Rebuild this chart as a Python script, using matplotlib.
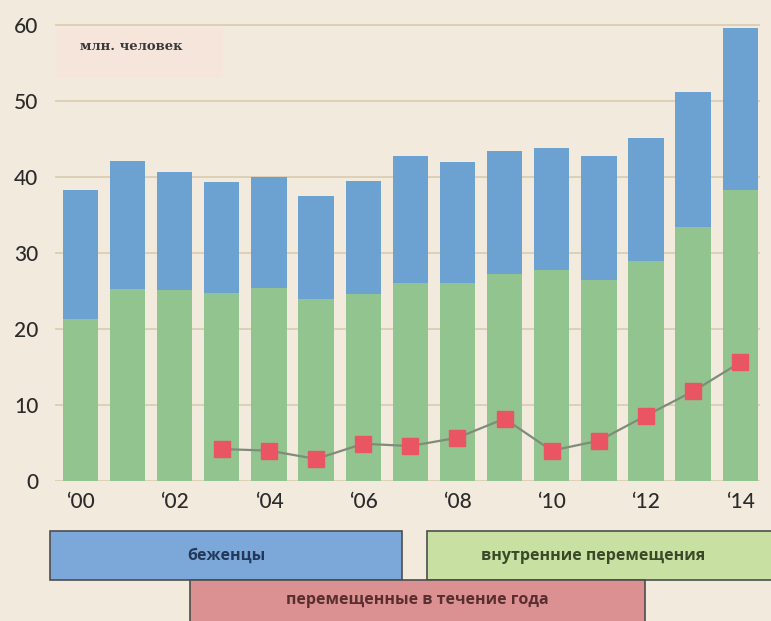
import matplotlib
matplotlib.use("Agg")
import matplotlib.pyplot as plt
from matplotlib.patches import Rectangle
import numpy as np

years = ["‘00", "‘01", "‘02", "‘03", "‘04", "‘05", "‘06", "‘07",
         "‘08", "‘09", "‘10", "‘11", "‘12", "‘13", "‘14"]
internal = [21.3, 25.3, 25.1, 24.8, 25.4, 23.9, 24.6, 26.1, 26.0, 27.3, 27.8, 26.5, 28.9, 33.4, 38.3]
refugees = [17.0, 16.8, 15.6, 14.5, 14.6, 13.6, 14.9, 16.7, 16.0, 16.1, 16.0, 16.2, 16.2, 17.8, 21.3]
new_years_idx = [3, 4, 5, 6, 7, 8, 9, 10, 11, 12, 13, 14]
new_displaced = [4.2, 4.0, 2.9, 4.9, 4.6, 5.7, 8.2, 4.0, 5.3, 8.6, 11.8, 15.6]
yticks = [0, 10, 20, 30, 40, 50, 60]
unit_label = "млн. человек"
legend_labels = ["беженцы", "внутренние перемещения", "перемещенные в течение года"]

BG = "#f2eadd"
BLUE = "#6ca2d2"
GREEN = "#92c490"
RED = "#ea5563"
GRID = "#dccdb3"

W, H = 771, 621
fig = plt.figure(figsize=(W / 100, H / 100), dpi=100, facecolor=BG)

def fx(px):
    return px / W

def fy(py):
    return 1 - py / H

ax_left, ax_right = 55, 760
ax_bottom, ax_top = 481, 9.8
ax = fig.add_axes([fx(ax_left), fy(ax_bottom), fx(ax_right - ax_left), (ax_bottom - ax_top) / H])
ax.set_facecolor(BG)

x = np.arange(len(years))
ax.bar(x, internal, width=0.75, color=GREEN, zorder=2)
ax.bar(x, refugees, width=0.75, bottom=internal, color=BLUE, zorder=2)
ax.plot(new_years_idx, new_displaced, color="#7f8c7a", lw=1.6, zorder=3,
        marker="s", ms=12, mfc=RED, mec=RED)

ax.set_xlim(-0.54, 14.42)
ax.set_ylim(0, 62)
ax.set_yticks(yticks)
ax.set_yticklabels([str(v) for v in yticks])
ax.set_xticks(x[::2])
ax.set_xticklabels(years[::2])
for s in ax.spines.values():
    s.set_visible(False)
ax.yaxis.grid(True, color=GRID, lw=1.3, zorder=0)
ax.set_axisbelow(True)
ax.tick_params(axis="both", length=0, labelsize=15, labelcolor="#2b2b2b")
ax.tick_params(axis="y", pad=12)
ax.tick_params(axis="x", pad=8)
for lab in ax.get_xticklabels() + ax.get_yticklabels():
    lab.set_fontfamily("Lato")
    lab.set_fontweight("medium")

# unit label box
fig.patches.append(Rectangle((fx(56), fy(78)), fx(167), 50 / H, transform=fig.transFigure,
                             facecolor="#f6e5da", edgecolor="none", zorder=0))
fig.text(fx(80), fy(47), unit_label, family="DejaVu Serif", fontweight="bold",
         fontsize=9.5, color="#3a3a3a", va="center", ha="left")

# legend boxes
boxes = [
    (50, 531, 402, 580, "#7ba7d9", "#24385a", legend_labels[0]),
    (427, 531, 775, 580, "#c8e0a2", "#3a4a28", legend_labels[1]),
    (190, 580, 645, 625, "#db9192", "#5a2e30", legend_labels[2]),
]
for (x0, y0, x1, y1, fc, tc, lab) in boxes:
    fig.patches.append(Rectangle((fx(x0), fy(y1)), fx(x1 - x0), (y1 - y0) / H,
                                 transform=fig.transFigure, facecolor=fc,
                                 edgecolor="#4d4d4d", lw=1.2, zorder=1))
    cx = (x0 + x1) / 2 if x1 < 771 else (x0 + 760) / 2
    cy = (y0 + min(y1, 621)) / 2
    fig.text(fx(cx), fy(cy), lab,
             ha="center", va="center", fontsize=11.5, color=tc,
             family="Open Sans", fontweight="bold", zorder=2)

fig.savefig("out.png", dpi=100, facecolor=BG)
